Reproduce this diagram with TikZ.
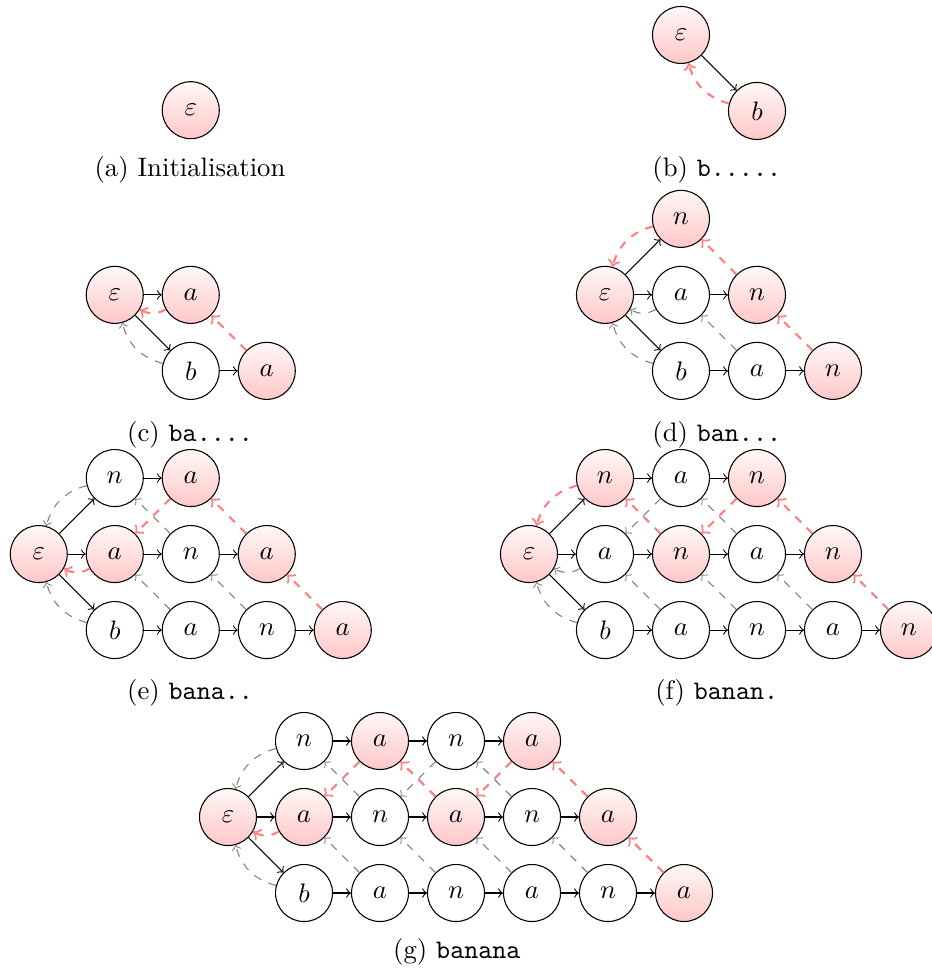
\documentclass[tikz,border=0pt]{standalone}
\usepackage{tikz}
\usepackage{xcolor}
\usetikzlibrary{positioning,arrows,automata}

\begin{document}
\begin{tikzpicture}[node distance = 1cm and 1cm, on grid,
                    every state/.style={draw, minimum size=0.75cm, inner sep=0pt},
                    hit/.style={top color=red!3, bottom color=red!22},
                    slink/.style={->, dashed, gray},
                    hlink/.style={->, dashed, thick, red!50}]
                        \useasboundingbox (0,0) rectangle (12.25,-12.776);

                        \node [state, hit] (a) at (2.51,-1.45) {$\varepsilon$};
                        \node (capa) at (2.5,-2.24) {(a) Initialisation};

                        \node [state, hit] (b) at (8.96,-0.46) {$\varepsilon$};
                        \node [state, hit] [below right=of b] (bb) {$b$};
                        \node (capb) at (9.43,-2.24) {(b) \texttt{b.....}};
                        \path[->] (b) edge (bb);
                        \path[hlink] (bb) edge [bend left] (b);

                        \node [state, hit] (c) at (1.51,-3.88) {$\varepsilon$};
                        \node [state, hit] [right=of c] (ca) {$a$};
                        \node [state] [below right=of c] (cb) {$b$};
                        \node [state, hit] [right=of cb] (cba) {$a$};
                        \node (capc) at (2.5,-5.72) {(c) \texttt{ba....}};
                        \path[->]
                        (c) edge (ca)
                        (c) edge (cb)
                        (cb) edge (cba);
                        \path[slink] (cb) edge [bend left] (c);
                        \path[hlink]
                        (ca) edge [bend left] (c)
                        (cba) edge (ca);

                        \node [state, hit] (d) at (7.96,-3.88) {$\varepsilon$};
                        \node [state, hit] [above right=of d] (dn) {$n$};
                        \node [state] [right=of d] (da) {$a$};
                        \node [state, hit] [right=of da] (dan) {$n$};
                        \node [state] [below right=of d] (db) {$b$};
                        \node [state] [right=of db] (dba) {$a$};
                        \node [state, hit] [right=of dba] (dban) {$n$};
                        \node (capd) at (9.43,-5.72) {(d) \texttt{ban...}};
                        \path[->]
                        (d) edge (dn)
                        (d) edge (da)
                        (d) edge (db)
                        (da) edge (dan)
                        (db) edge (dba)
                        (dba) edge (dban);
                        \path[slink]
                        (da) edge [bend left] (d)
                        (db) edge [bend left] (d)
                        (dba) edge (da);
                        \path[hlink]
                        (dn) edge [bend right] (d)
                        (dan) edge (dn)
                        (dban) edge (dan);

                        \node [state, hit] (e) at (0.51,-7.29) {$\varepsilon$};
                        \node [state] [above right=of e] (en) {$n$};
                        \node [state, hit] [right=of en] (ena) {$a$};
                        \node [state, hit] [right=of e] (ea) {$a$};
                        \node [state] [right=of ea] (ean) {$n$};
                        \node [state, hit] [right=of ean] (eana) {$a$};
                        \node [state] [below right=of e] (eb) {$b$};
                        \node [state] [right=of eb] (eba) {$a$};
                        \node [state] [right=of eba] (eban) {$n$};
                        \node [state, hit] [right=of eban] (ebana) {$a$};
                        \node (cape) at (2.5,-9.12) {(e) \texttt{bana..}};
                        \path[->]
                        (e) edge (en)
                        (e) edge (ea)
                        (e) edge (eb)
                        (en) edge (ena)
                        (ea) edge (ean)
                        (ean) edge (eana)
                        (eb) edge (eba)
                        (eba) edge (eban)
                        (eban) edge (ebana);
                        \path[slink]
                        (en) edge [bend right] (e)
                        (eb) edge [bend left] (e)
                        (ean) edge (en)
                        (eba) edge (ea)
                        (eban) edge (ean);
                        \path[hlink]
                        (ea) edge [bend left] (e)
                        (ena) edge (ea)
                        (eana) edge (ena)
                        (ebana) edge (eana);

                        \node [state, hit] (f) at (6.96,-7.29) {$\varepsilon$};
                        \node [state, hit] [above right=of f] (fn) {$n$};
                        \node [state] [right=of fn] (fna) {$a$};
                        \node [state, hit] [right=of fna] (fnan) {$n$};
                        \node [state] [right=of f] (fa) {$a$};
                        \node [state, hit] [right=of fa] (fan) {$n$};
                        \node [state] [right=of fan] (fana) {$a$};
                        \node [state, hit] [right=of fana] (fanan) {$n$};
                        \node [state] [below right=of f] (fb) {$b$};
                        \node [state] [right=of fb] (fba) {$a$};
                        \node [state] [right=of fba] (fban) {$n$};
                        \node [state] [right=of fban] (fbana) {$a$};
                        \node [state, hit] [right=of fbana] (fbanan) {$n$};
                        \node (capf) at (9.43,-9.12) {(f) \texttt{banan.}};
                        \path[->]
                        (f) edge (fn)
                        (f) edge (fa)
                        (f) edge (fb)
                        (fn) edge (fna)
                        (fna) edge (fnan)
                        (fa) edge (fan)
                        (fan) edge (fana)
                        (fana) edge (fanan)
                        (fb) edge (fba)
                        (fba) edge (fban)
                        (fban) edge (fbana)
                        (fbana) edge (fbanan);
                        \path[slink]
                        (fa) edge [bend left] (f)
                        (fb) edge [bend left] (f)
                        (fna) edge (fa)
                        (fana) edge (fna)
                        (fba) edge (fa)
                        (fban) edge (fan)
                        (fbana) edge (fana);
                        \path[hlink]
                        (fn) edge [bend right] (f)
                        (fnan) edge (fan)
                        (fan) edge (fn)
                        (fanan) edge (fnan)
                        (fbanan) edge (fanan);

                        \node [state, hit] (g) at (3.0,-10.75) {$\varepsilon$};
                        \node [state] [above right=of g] (gn) {$n$};
                        \node [state, hit] [right=of gn] (gna) {$a$};
                        \node [state] [right=of gna] (gnan) {$n$};
                        \node [state, hit] [right=of gnan] (gnana) {$a$};
                        \node [state, hit] [right=of g] (ga) {$a$};
                        \node [state] [right=of ga] (gan) {$n$};
                        \node [state, hit] [right=of gan] (gana) {$a$};
                        \node [state] [right=of gana] (ganan) {$n$};
                        \node [state, hit] [right=of ganan] (ganana) {$a$};
                        \node [state] [below right=of g] (gb) {$b$};
                        \node [state] [right=of gb] (gba) {$a$};
                        \node [state] [right=of gba] (gban) {$n$};
                        \node [state] [right=of gban] (gbana) {$a$};
                        \node [state] [right=of gbana] (gbanan) {$n$};
                        \node [state, hit] [right=of gbanan] (gbanana) {$a$};
                        \node (capg) at (6.01,-12.53) {(g) \texttt{banana}};
                        \path[->]
                        (g) edge (gn)
                        (g) edge (ga)
                        (g) edge (gb)
                        (gn) edge (gna)
                        (gna) edge (gnan)
                        (gnan) edge (gnana)
                        (ga) edge (gan)
                        (gan) edge (gana)
                        (gana) edge (ganan)
                        (ganan) edge (ganana)
                        (gb) edge (gba)
                        (gba) edge (gban)
                        (gban) edge (gbana)
                        (gbana) edge (gbanan)
                        (gbanan) edge (gbanana);
                        \path[slink]
                        (gn) edge [bend right] (g)
                        (gb) edge [bend left] (g)
                        (gnan) edge (gan)
                        (gan) edge (gn)
                        (ganan) edge (gnan)
                        (gba) edge (ga)
                        (gban) edge (gan)
                        (gbana) edge (gana)
                        (gbanan) edge (ganan);
                        \path[hlink]
                        (ga) edge [bend left] (g)
                        (gna) edge (ga)
                        (gnana) edge (gana)
                        (gana) edge (gna)
                        (ganana) edge (gnana)
                        (gbanana) edge (ganana);
                    \end{tikzpicture}
\end{document}
